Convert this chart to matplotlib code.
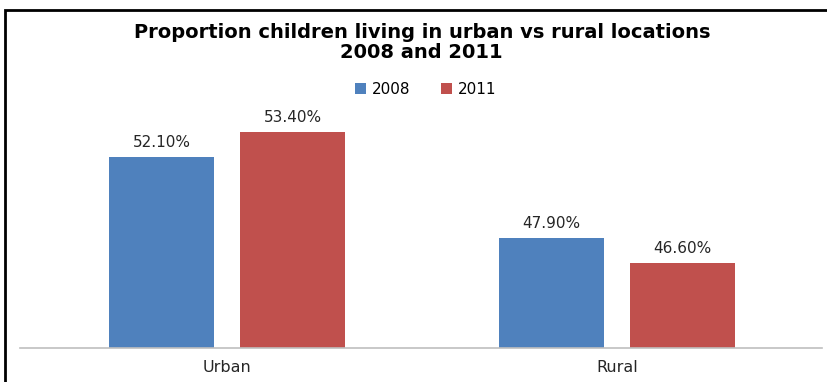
import matplotlib.pyplot as plt
import numpy as np
from matplotlib.patches import Rectangle

categories = ["Urban", "Rural"]
years = ["2008", "2011"]
values_2008 = [52.1, 47.9]
values_2011 = [53.4, 46.6]

colors = ["#4F81BD", "#C0504D"]

fig = plt.figure(figsize=(8.27, 3.82), dpi=100)
ax = fig.add_axes([20 / 827, 1 - 348 / 382, 802 / 827, 248 / 382])

x = np.arange(len(categories))
width = 0.27
offsets = [-0.5 * width - 0.033, 0.5 * width + 0.033]

for i, (label, vals) in enumerate(zip(years, [values_2008, values_2011])):
    rects = ax.bar(x + offsets[i], vals, width, color=colors[i], label=label)
    ax.bar_label(rects, labels=[f"{v:.2f}%" for v in vals], padding=5,
                 fontsize=11, color="#262626")

ax.set_ylim(42.15, 55.07)
ax.set_xlim(-0.531, 1.525)
ax.set_yticks([])
ax.set_xticks(x, categories)
ax.tick_params(axis="x", length=0, pad=9, labelsize=11.5, labelcolor="#262626")
for side in ["top", "right", "left"]:
    ax.spines[side].set_visible(False)
ax.spines["bottom"].set_color("#BFBFBF")
ax.spines["bottom"].set_linewidth(1.2)

fig.text(0.510, 1 - 33 / 382, "Proportion children living in urban vs rural locations",
         ha="center", va="center", fontsize=14, fontweight="bold")
fig.text(0.510, 1 - 53 / 382, "2008 and 2011",
         ha="center", va="center", fontsize=14, fontweight="bold")

fig.legend(loc="center", bbox_to_anchor=(0.515, 1 - 89 / 382), ncol=2, frameon=False,
           fontsize=11, handlelength=0.7, handleheight=0.7, handletextpad=0.4,
           columnspacing=2.0)

# chart border
fig.patches.append(Rectangle((5 / 827, -0.05), 1.0, 1 - 10 / 382 + 0.05,
                             transform=fig.transFigure, fill=False,
                             edgecolor="black", linewidth=2, clip_on=False))

fig.savefig("out.png", dpi=100)
